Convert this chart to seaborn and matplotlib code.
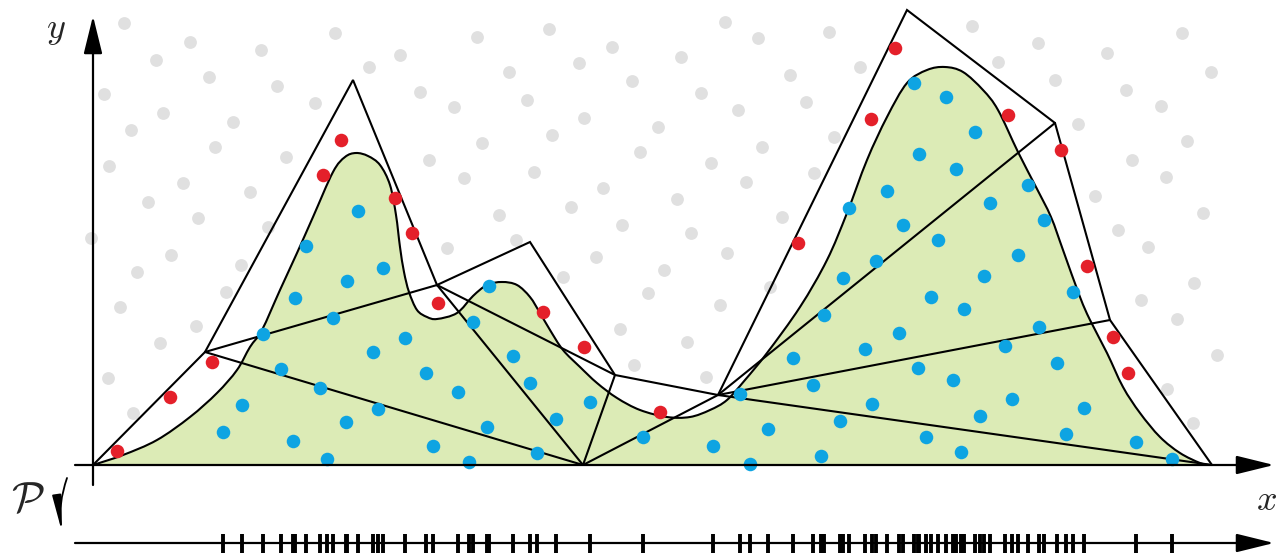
import numpy as np
import pandas as pd
from matplotlib import pyplot as plt
from matplotlib.patches import FancyArrowPatch, PathPatch
from matplotlib.path import Path
import seaborn as sns

# everything in image units (x to the right, y downward)
curve_x = [93, 123, 157, 190, 217, 237, 250, 262, 280, 297, 313, 333, 345, 356, 368,
           380, 390, 396, 400, 404, 409, 417, 427, 437, 457, 473, 487, 502, 517, 530,
           540, 550, 563, 580, 597, 617, 640, 667, 690, 710, 727, 745, 767, 800, 827,
           847, 867, 887, 907, 927, 945, 963, 983, 998, 1018, 1036, 1051, 1063, 1080,
           1090, 1107, 1123, 1140, 1160, 1180, 1200, 1210]
curve_y = [465, 455, 440, 417, 393, 370, 347, 330, 290, 253, 217, 172, 157, 153, 156,
           165, 185, 215, 247, 272, 292, 310, 317, 319, 313, 296, 285, 282, 285, 297,
           313, 330, 350, 367, 383, 398, 410, 417, 417, 410, 400, 380, 353, 307, 260,
           213, 160, 117, 83, 70, 67, 72, 90, 110, 152, 187, 217, 250, 297,
           320, 353, 387, 413, 437, 453, 463, 465]

hull_x = [93, 205, 353, 437, 530, 615, 718, 907, 1055, 1110, 1212]
hull_y = [465, 352, 80, 285, 242, 375, 395, 10, 123, 320, 465]

# inner edges of the triangulation (hull vertex indices, 'b' = point on the x axis)
edges = [(1, 3), (1, 'b'), (3, 'b'), (3, 5), (5, 'b'), ('b', 6), (6, 8), (6, 9), (6, 10)]
base_point = (583, 465)

red_x = [117, 170, 212, 323, 341, 395, 412, 438, 543, 584, 660, 798, 871, 895, 1008,
         1061, 1087, 1113, 1128]
red_y = [451, 397, 362, 175, 140, 198, 233, 303, 312, 347, 412, 243, 119, 48, 115,
         150, 266, 337, 373]

blue_x = [358, 306, 383, 347, 295, 333, 263, 373, 405, 281, 320, 378, 242, 346, 223,
          293, 327, 489, 473, 513, 426, 530, 458, 590, 556, 487, 433, 537, 469, 643,
          914, 946, 975, 919, 956, 887, 849, 990, 903, 938, 876, 843, 984, 931, 964,
          824, 899, 865, 793, 918, 953, 813, 740, 872, 980, 768, 840, 926, 713, 821,
          961, 750, 1028, 1044, 1018, 1073, 1039, 1005, 1057, 1012, 1084, 1066, 1136, 1172]
blue_y = [211, 246, 268, 281, 298, 318, 334, 352, 338, 369, 388, 409, 405, 422, 432,
          441, 459, 286, 322, 356, 373, 383, 392, 402, 419, 427, 446, 453, 462, 437,
          83, 97, 132, 154, 169, 191, 208, 203, 225, 240, 261, 278, 276, 297, 309,
          315, 333, 349, 358, 368, 380, 385, 394, 404, 416, 429, 421, 437, 446, 456,
          452, 464, 185, 220, 255, 292, 327, 346, 363, 399, 408, 434, 442, 459]

gray_x = [124, 190, 156, 209, 261, 335, 400, 369, 277, 104, 163, 315, 420, 454, 477,
          509, 527, 549, 579, 612, 632, 584, 552, 482, 429, 464, 534, 603, 571, 622,
          499, 516, 447, 596, 131, 215, 233, 286, 109, 183, 148, 250, 198, 91, 171,
          137, 241, 725, 758, 681, 829, 790, 701, 738, 806, 860, 658, 762, 834, 711,
          814, 746, 677, 782, 691, 727, 664, 972, 1038, 1107, 1182, 1211, 998, 1055, 1126,
          1161, 1078, 1187, 1132, 1166, 1095, 1203, 1118, 1148, 640, 1194, 1141, 1177, 1217,
          1167, 1193, 648, 720, 687, 706, 770, 226, 120, 196, 160, 108, 133, 620, 634,
          563, 268]
gray_y = [23, 42, 60, 77, 50, 33, 55, 67, 86, 94, 113, 103, 92, 107, 37,
          72, 100, 29, 63, 47, 81, 118, 135, 143, 160, 178, 172, 188, 207, 225,
          215, 240, 248, 257, 130, 147, 122, 157, 166, 183, 202, 192, 218, 238, 255,
          272, 265, 22, 38, 57, 32, 75, 93, 110, 102, 67, 127, 147, 137, 163,
          173, 182, 199, 217, 233, 253, 270, 26, 43, 53, 33, 72, 62, 80, 90,
          106, 124, 141, 160, 177, 196, 213, 230, 247, 152, 283, 300, 319, 355,
          389, 423, 293, 305, 342, 377, 287, 292, 307, 326, 343, 378, 413, 329, 365,
          277, 227]

green = "#dcebb6"
blue = "#0ea4e2"
red = "#e4202a"
grey = "#e0e0e0"


def smooth_path(xs, ys, close=False):
    # bezier path through the read points (catmull-rom tangents)
    pts = np.column_stack([xs, ys]).astype(float)
    n = len(pts)
    verts = [pts[0]]
    codes = [Path.MOVETO]
    for i in range(n - 1):
        p0, p1, p2, p3 = pts[max(i - 1, 0)], pts[i], pts[i + 1], pts[min(i + 2, n - 1)]
        verts += [p1 + (p2 - p0) / 6, p2 - (p3 - p1) / 6, p2]
        codes += [Path.CURVE4] * 3
    if close:
        verts.append(pts[0])
        codes.append(Path.CLOSEPOLY)
    return Path(verts, codes)


sns.set_style("white")
plt.rcParams['mathtext.fontset'] = 'cm'

fig = plt.figure(figsize=(12.77, 5.59), dpi=100)
ax = fig.add_axes([0, 0, 1, 1])
ax.set_xlim(0, 1277)
ax.set_ylim(559, 0)
ax.axis('off')

ax.add_patch(PathPatch(smooth_path(curve_x, curve_y, close=True), facecolor=green,
                       edgecolor='none', zorder=1))

sns.scatterplot(x=gray_x, y=gray_y, color=grey, s=85, linewidth=0, ax=ax, zorder=2)

# triangulation
lw = 1.5
ax.plot(hull_x, hull_y, color='black', lw=lw, zorder=3, solid_joinstyle='miter')
for a, b in edges:
    pa = base_point if a == 'b' else (hull_x[a], hull_y[a])
    pb = base_point if b == 'b' else (hull_x[b], hull_y[b])
    ax.plot([pa[0], pb[0]], [pa[1], pb[1]], color='black', lw=lw, zorder=3)

ax.add_patch(PathPatch(smooth_path(curve_x, curve_y), facecolor='none',
                       edgecolor='black', lw=lw, zorder=4))

sns.scatterplot(x=red_x, y=red_y, color=red, s=95, linewidth=0, ax=ax, zorder=5)
sns.scatterplot(x=blue_x, y=blue_y, color=blue, s=95, linewidth=0, ax=ax, zorder=5)

# axes with arrows
head = "-|>,head_length=1.3,head_width=0.32"
for start, end in [((75, 465), (1274, 465)), ((93, 485), (93, 16)), ((75, 543), (1274, 543))]:
    ax.add_patch(FancyArrowPatch(start, end, arrowstyle=head, mutation_scale=18,
                                 color='black', lw=1.6, zorder=6, shrinkA=0, shrinkB=0))

# projection of the inner points onto the line
ax.vlines(blue_x, 534, 553, color='black', lw=2.8, zorder=6)

ax.text(56, 30, r'$y$', fontsize=26, ha='center', va='center')
ax.text(1266, 500, r'$x$', fontsize=26, ha='center', va='center')
ax.text(28, 500, r'$\mathcal{P}$', fontsize=31, ha='center', va='center')
ax.add_patch(FancyArrowPatch((67, 478), (62, 532),
                             arrowstyle="-|>,head_length=1.8,head_width=0.22",
                             mutation_scale=12, connectionstyle="arc3,rad=0.12",
                             color='black', lw=1.3, shrinkA=0, shrinkB=0))

plt.savefig('out.png', dpi=100)
